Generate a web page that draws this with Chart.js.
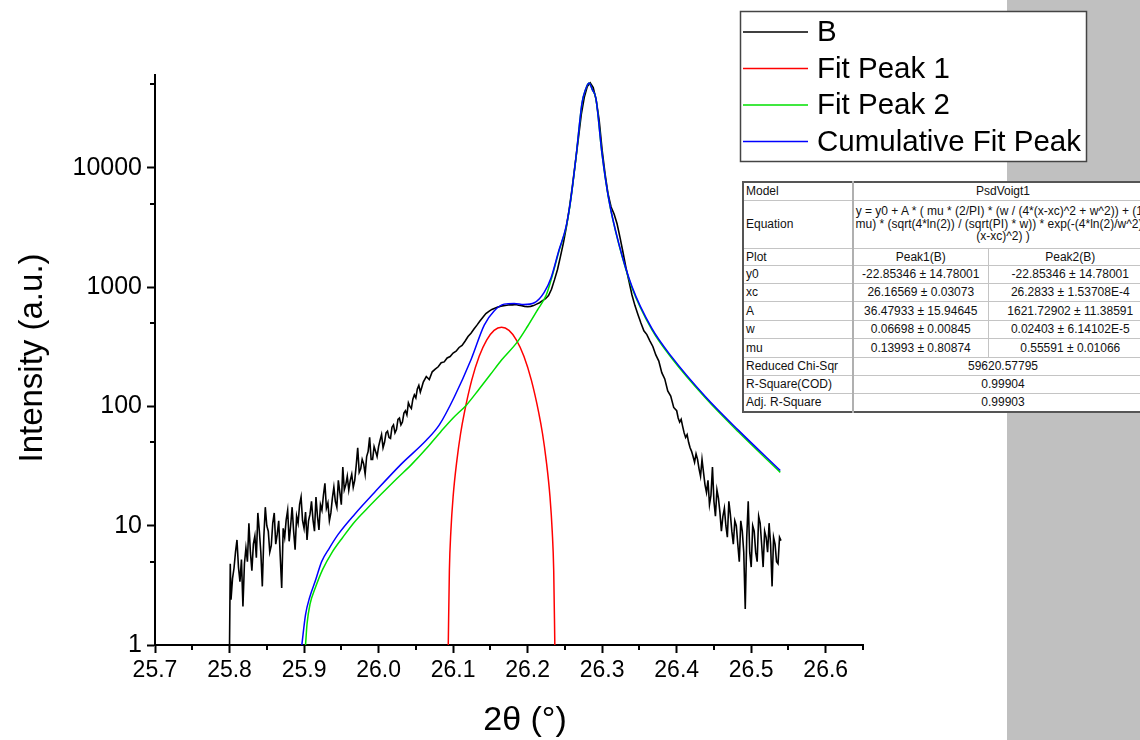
<!DOCTYPE html>
<html>
<head>
<meta charset="utf-8">
<script src="https://cdn.jsdelivr.net/npm/chart.js"></script>
<style>
  html, body { margin: 0; padding: 0; background: #fff; }
  #wrap { position: relative; width: 1140px; height: 740px; overflow: hidden; }
  #xrd { position: absolute; left: 0; top: 0; }
  #fit {
    position: absolute; left: 742px; top: 181px; width: 410px;
    border-collapse: collapse; table-layout: fixed; background: #fff;
    font-family: 'Liberation Sans', Arial, sans-serif; font-size: 12px; color: #111;
    border: 2px solid #555;
  }
  #fit td { border: 1px solid #c4c4c4; padding: 0 2px; line-height: 14px; text-align: center; white-space: nowrap; overflow: hidden; }
  #fit td.lab { text-align: left; }
  #fit td.sep { border-left: 2px solid #b0b0b0; }
  #fit .eq { font-size: 12px; line-height: 12.5px; }
  #fit .eq div { display: flex; justify-content: center; white-space: nowrap; }
</style>
</head>
<body>
<div id="wrap">
  <canvas id="xrd" width="1140" height="740"></canvas>
  <table id="fit">
    <colgroup><col style="width:110px"><col style="width:135px"><col style="width:165px"></colgroup>
    <tr style="height:18px"><td class="lab">Model</td><td class="sep" colspan="2">PsdVoigt1</td></tr>
    <tr style="height:48px"><td class="lab">Equation</td><td class="sep eq" colspan="2">
      <div>y = y0 + A * ( mu * (2/PI) * (w / (4*(x-xc)^2 + w^2)) + (1 -</div>
      <div>mu) * (sqrt(4*ln(2)) / (sqrt(PI) * w)) * exp(-(4*ln(2)/w^2) *</div>
      <div>(x-xc)^2) )</div></td></tr>
    <tr style="height:17px"><td class="lab">Plot</td><td class="sep">Peak1(B)</td><td>Peak2(B)</td></tr>
    <tr style="height:18px"><td class="lab">y0</td><td class="sep">-22.85346 ± 14.78001</td><td>-22.85346 ± 14.78001</td></tr>
    <tr style="height:18px"><td class="lab">xc</td><td class="sep">26.16569 ± 0.03073</td><td>26.2833 ± 1.53708E-4</td></tr>
    <tr style="height:19px"><td class="lab">A</td><td class="sep">36.47933 ± 15.94645</td><td>1621.72902 ± 11.38591</td></tr>
    <tr style="height:18px"><td class="lab">w</td><td class="sep">0.06698 ± 0.00845</td><td>0.02403 ± 6.14102E-5</td></tr>
    <tr style="height:19px"><td class="lab">mu</td><td class="sep">0.13993 ± 0.80874</td><td>0.55591 ± 0.01066</td></tr>
    <tr style="height:18px"><td class="lab">Reduced Chi-Sqr</td><td class="sep" colspan="2">59620.57795</td></tr>
    <tr style="height:18px"><td class="lab">R-Square(COD)</td><td class="sep" colspan="2">0.99904</td></tr>
    <tr style="height:19px"><td class="lab">Adj. R-Square</td><td class="sep" colspan="2">0.99903</td></tr>
  </table>
</div>
<script>
// measured data B (2theta, intensity)
const bX = [25.800, 25.801,
  25.802, 25.804, 25.806, 25.808, 25.810, 25.812, 25.814, 25.816, 25.818, 25.820,
  25.822, 25.824, 25.826, 25.828, 25.830, 25.832, 25.834, 25.836, 25.838, 25.840,
  25.842, 25.844, 25.846, 25.848, 25.850, 25.852, 25.854, 25.856, 25.858, 25.860,
  25.862, 25.864, 25.866, 25.868, 25.870, 25.872, 25.874, 25.876, 25.878, 25.880,
  25.882, 25.884, 25.886, 25.888, 25.890, 25.892, 25.894, 25.896, 25.898, 25.900,
  25.902, 25.904, 25.906, 25.908, 25.910, 25.912, 25.914, 25.916, 25.918, 25.920,
  25.922, 25.924, 25.926, 25.928, 25.930, 25.932, 25.934, 25.936, 25.938, 25.940,
  25.942, 25.944, 25.946, 25.948, 25.950, 25.952, 25.954, 25.956, 25.958, 25.960,
  25.962, 25.964, 25.966, 25.968, 25.970, 25.972, 25.974, 25.976, 25.978, 25.980,
  25.982, 25.984, 25.986, 25.988, 25.990, 25.992, 25.994, 25.996, 25.998, 26.000,
  26.002, 26.004, 26.006, 26.008, 26.010, 26.012, 26.014, 26.016, 26.018, 26.020,
  26.022, 26.024, 26.026, 26.028, 26.030, 26.032, 26.034, 26.036, 26.038, 26.040,
  26.042, 26.044, 26.046, 26.048, 26.050, 26.052, 26.054, 26.056, 26.058, 26.060,
  26.064, 26.068, 26.072, 26.076, 26.080,
  26.084, 26.088, 26.092, 26.096, 26.100, 26.104, 26.108, 26.112, 26.116, 26.120,
  26.124, 26.128, 26.132, 26.136, 26.140, 26.144, 26.148, 26.152, 26.156, 26.160,
  26.164, 26.168, 26.172, 26.176, 26.180, 26.184, 26.188, 26.192, 26.196, 26.200,
  26.204, 26.208, 26.212, 26.216, 26.220, 26.224, 26.228, 26.232, 26.236, 26.240,
  26.244, 26.248, 26.252, 26.256, 26.260, 26.264, 26.268, 26.272, 26.276, 26.280,
  26.284, 26.288, 26.292, 26.296, 26.300, 26.304, 26.308, 26.312, 26.316, 26.320,
  26.324, 26.328, 26.332, 26.336, 26.340, 26.344, 26.348, 26.352, 26.356, 26.360,
  26.364, 26.368, 26.372, 26.376, 26.380, 26.384, 26.388, 26.392, 26.396, 26.400,
  26.402, 26.404, 26.406, 26.408, 26.410, 26.412, 26.414, 26.416, 26.418, 26.420,
  26.422, 26.424, 26.426, 26.428, 26.430, 26.432, 26.434, 26.436, 26.438, 26.440,
  26.442, 26.444, 26.446, 26.448, 26.450, 26.452, 26.454, 26.456, 26.458, 26.460,
  26.462, 26.464, 26.466, 26.468, 26.470, 26.472, 26.474, 26.476, 26.478, 26.480,
  26.482, 26.484, 26.486, 26.488, 26.490, 26.492, 26.494, 26.496, 26.498, 26.500,
  26.502, 26.504, 26.506, 26.508, 26.510, 26.512, 26.514, 26.516, 26.518, 26.520,
  26.522, 26.524, 26.526, 26.528, 26.530, 26.532, 26.534, 26.536, 26.538, 26.540];
const bY = [1, 4.8,
  2.4, 3.6, 4.4, 6.0, 7.6, 4.5, 3.4, 5.2, 2.1, 4.8,
  6.5, 5.0, 10.5, 6.0, 4.2, 7.0, 8.2, 5.4, 12.8, 9.0,
  6.0, 3.1, 8.0, 14.3, 10.0, 9.0, 6.0, 6.8, 10.5, 12.8,
  7.0, 8.5, 11.0, 5.6, 3.0, 9.5, 8.0, 11.2, 13.5, 7.4,
  10.0, 14.3, 9.0, 6.3, 12.0, 10.5, 15.0, 17.4, 11.0, 9.5,
  13.0, 7.6, 11.0, 12.5, 16.0, 11.2, 9.0, 17.4, 12.0, 9.2,
  15.0, 13.5, 18.0, 22.7, 14.0, 15.5, 11.0, 12.8, 17.0, 21.0,
  16.0, 14.3, 24.0, 19.0, 15.0, 31.0, 20.0, 22.0, 26.0, 19.9,
  24.0, 27.0, 21.0, 24.0, 32.0, 45.0, 28.0, 30.0, 36.0, 33.0,
  27.0, 38.0, 42.0, 55.0, 36.0, 36.0, 46.0, 42.0, 38.0, 46.0,
  52.0, 58.0, 45.0, 50.0, 60.0, 62.0, 55.0, 54.0, 67.0, 70.0,
  60.0, 64.0, 78.0, 80.0, 70.0, 74.0, 88.0, 92.0, 85.0, 107,
  100, 96, 115, 125, 118, 140, 150, 132, 145, 160,
  178, 168, 195, 205, 215,
  232, 236, 255, 262, 280, 290, 312, 325, 352, 385,
  410, 445, 480, 520, 560, 600, 625, 650, 665, 680,
  690, 700, 705, 712, 710, 715, 705, 700, 690, 685,
  690, 700, 720, 740, 770, 800, 850, 960, 1150, 1400,
  1800, 2350, 3200, 4600, 7000, 11000, 17500, 28000, 39000, 48000,
  51500, 47000, 37000, 25000, 14000, 8800, 6000, 4700, 4100, 3400,
  2600, 1950, 1450, 1120, 860, 700, 590, 500, 430, 400,
  355, 318, 270, 240, 192, 170, 135, 122, 98, 92,
  80, 74, 78, 68, 60, 55, 58, 50, 45, 42,
  38, 34, 40, 36, 30, 26, 36, 28, 22, 19,
  24, 15, 18, 31, 16, 12, 20, 17, 13, 9,
  12, 14, 10, 8, 16, 12.5, 9, 7, 11, 10,
  7, 5, 11, 9, 6, 2.0, 8, 16, 6, 4.5,
  10, 9, 6, 5, 12, 10.5, 7, 4.5, 9, 8,
  6, 10.5, 7, 3.1, 8, 7, 5, 4.8, 8, 7.5];

// Fit Peak 1
const p1X = [26.0935, 26.095, 26.097, 26.100, 26.105, 26.110, 26.115, 26.125, 26.135, 26.145, 26.155, 26.165,
  26.175, 26.185, 26.195, 26.205, 26.215, 26.220, 26.225, 26.230, 26.233, 26.235, 26.2365];
const p1Y = [1, 4.2, 9, 17.5, 35, 59, 88, 166, 263, 360, 434, 462,
  434, 360, 263, 166, 88, 59, 35, 17.5, 9, 4.2, 1];

// Fit Peak 2
const p2X = [25.902, 25.904, 25.908, 25.915, 25.925, 25.937, 25.952, 25.968, 25.985, 26.004, 26.025, 26.045,
  26.065, 26.084, 26.100, 26.118, 26.135, 26.150, 26.165, 26.186, 26.200, 26.213, 26.225, 26.2315,
  26.242, 26.2515, 26.258, 26.265, 26.273, 26.2775, 26.2823, 26.287, 26.2917, 26.2997, 26.309, 26.3225,
  26.340, 26.3667, 26.3934, 26.439, 26.483, 26.539];
const p2Y = [1, 1.5, 2.2, 3.0, 4.3, 5.9, 8.0, 10.8, 14, 18.5, 25, 33,
  45, 62, 80, 103, 140, 185, 245, 346, 470, 640, 860, 1150,
  2000, 3150, 5450, 12400, 34900, 44900, 51300, 44900, 37900, 13250, 5350, 2270,
  990, 440, 253, 117, 61, 28];

// Cumulative Fit Peak
const cumX = [25.897, 25.902, 25.9075, 25.9155, 25.9236, 25.934, 25.946, 25.968, 25.9945, 26.0307, 26.064, 26.0815,
  26.1016, 26.1244, 26.1418, 26.155, 26.1685, 26.182, 26.195, 26.209, 26.222, 26.2315, 26.242, 26.2515,
  26.258, 26.265, 26.273, 26.2775, 26.2823, 26.287, 26.2917, 26.2997, 26.309, 26.3225, 26.340, 26.3667,
  26.3934, 26.439, 26.483, 26.539];
const cumY = [1, 1.8, 2.5, 3.5, 5.0, 6.5, 8.5, 12.5, 19, 33, 52, 70,
  120, 250, 480, 630, 720, 730, 715, 740, 900, 1200, 2040, 3200,
  5500, 12500, 35000, 45000, 51400, 45000, 38000, 13300, 5400, 2300, 1010, 450,
  260, 120, 63, 29];

const xTicks = [25.7, 25.8, 25.9, 26.0, 26.1, 26.2, 26.3, 26.4, 26.5, 26.6];
const xMinor = [25.75, 25.85, 25.95, 26.05, 26.15, 26.25, 26.35, 26.45, 26.55, 26.65];
const yTicks = [1, 10, 100, 1000, 10000];
const yMinor = [5, 50, 500, 5000, 50000];

const legendItems = [
  { text: 'B', color: '#000000' },
  { text: 'Fit Peak 1', color: '#ff0000' },
  { text: 'Fit Peak 2', color: '#00e000' },
  { text: 'Cumulative Fit Peak', color: '#0000ff' }
];

const FONT = "'Liberation Sans', Arial, sans-serif";
Chart.defaults.font.family = FONT;
Chart.defaults.color = '#000';

function pts(xs, ys) {
  return xs.map((x, i) => ({ x: x, y: ys[i] }));
}

// gray strip on the right side of the page
const backdrop = {
  id: 'backdrop',
  beforeDraw(chart) {
    const c = chart.ctx;
    c.save();
    c.fillStyle = '#c0c0c0';
    c.fillRect(1007, 0, 133, 740);
    c.restore();
  }
};

// minor ticks, axis titles and the boxed legend
const extras = {
  id: 'extras',
  afterDraw(chart) {
    const c = chart.ctx;
    const xs = chart.scales.x, ys = chart.scales.y;
    c.save();
    c.strokeStyle = '#000';
    c.lineWidth = 2;
    c.beginPath();
    xMinor.forEach(v => {
      const p = Math.round(xs.getPixelForValue(v));
      c.moveTo(p, xs.top); c.lineTo(p, xs.top + 5);
    });
    yMinor.forEach(v => {
      const p = Math.round(ys.getPixelForValue(v));
      c.moveTo(ys.right, p); c.lineTo(ys.right - 5, p);
    });
    c.stroke();

    c.fillStyle = '#000';
    c.textAlign = 'center';
    c.textBaseline = 'middle';
    c.font = '34px ' + FONT;
    c.fillText('2θ (°)', 525, 721);
    c.translate(33, 358);
    c.rotate(-Math.PI / 2);
    c.font = '33px ' + FONT;
    c.fillText('Intensity (a.u.)', 0, 0);
    c.restore();

    // legend box
    c.save();
    c.fillStyle = '#fff';
    c.fillRect(740, 11, 347, 151);
    c.strokeStyle = '#444';
    c.lineWidth = 1.5;
    c.strokeRect(740.5, 11.5, 346, 150);
    c.font = '29.5px ' + FONT;
    c.textAlign = 'left';
    c.textBaseline = 'middle';
    legendItems.forEach((it, i) => {
      const y = 32 + i * 36.5;
      c.strokeStyle = it.color;
      c.lineWidth = 1.5;
      c.beginPath();
      c.moveTo(743, y); c.lineTo(808, y);
      c.stroke();
      c.fillStyle = '#000';
      c.fillText(it.text, 817, y + 1);
    });
    c.restore();
  }
};

const ctx = document.getElementById('xrd').getContext('2d');
const xrdChart = new Chart(ctx, {
  type: 'line',
  data: {
    datasets: [
      { label: 'Cumulative Fit Peak', data: pts(cumX, cumY), borderColor: '#0000ff', borderWidth: 1.5, cubicInterpolationMode: 'monotone', order: 1 },
      { label: 'Fit Peak 2', data: pts(p2X, p2Y), borderColor: '#00e000', borderWidth: 1.5, cubicInterpolationMode: 'monotone', order: 2 },
      { label: 'Fit Peak 1', data: pts(p1X, p1Y), borderColor: '#ff0000', borderWidth: 1.5, cubicInterpolationMode: 'monotone', order: 3 },
      { label: 'B', data: pts(bX, bY), borderColor: '#000000', borderWidth: 1.6, order: 4 }
    ]
  },
  options: {
    responsive: false,
    animation: false,
    layout: { padding: { left: 0, top: 75, right: 277, bottom: 0 } },
    elements: { point: { radius: 0 }, line: { tension: 0 } },
    plugins: {
      legend: { display: false },
      tooltip: { enabled: false }
    },
    scales: {
      x: {
        type: 'linear',
        min: 25.7,
        max: 26.65,
        afterBuildTicks: s => { s.ticks = xTicks.map(v => ({ value: v })); },
        afterFit: s => { s.height = 95; },
        border: { display: true, color: '#000', width: 2 },
        grid: { drawOnChartArea: false, drawTicks: true, tickLength: 8, tickWidth: 2, tickColor: '#000' },
        ticks: { autoSkip: false, maxRotation: 0, padding: 4, font: { size: 23 }, color: '#000',
          callback: v => Number(v).toFixed(1) }
      },
      y: {
        type: 'logarithmic',
        min: 1,
        max: 60000,
        afterBuildTicks: s => { s.ticks = yTicks.map(v => ({ value: v })); },
        afterFit: s => { s.width = 155; },
        border: { display: true, color: '#000', width: 2 },
        grid: { drawOnChartArea: false, drawTicks: true, tickLength: 8, tickWidth: 2, tickColor: '#000' },
        ticks: { padding: 5, font: { size: 25 }, color: '#000', callback: v => String(v) }
      }
    }
  },
  plugins: [backdrop, extras]
});
</script>
</body>
</html>
